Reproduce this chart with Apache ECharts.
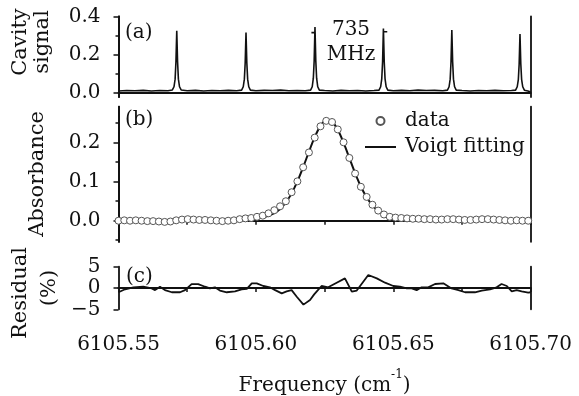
<!DOCTYPE html>
<html><head><meta charset="utf-8">
<script src="https://cdn.jsdelivr.net/npm/echarts@6/dist/echarts.min.js"></script>
<style>html,body{margin:0;padding:0;background:#fff}#c{width:579px;height:396px}</style>
</head><body><div id="c"></div>
<script>
// ---------- Panel (a): cavity transmission ----------
const cavityFreq = [
6105.5500,6105.5530,6105.5560,6105.5590,6105.5620,6105.5650,6105.5680,
6105.5696,6105.5702,6105.5706,6105.5709,6105.5712,6105.5715,6105.5718,6105.5722,6105.5728,
6105.5750,6105.5780,6105.5810,6105.5840,6105.5870,6105.5900,6105.5930,
6105.5948,6105.5954,6105.5958,6105.5961,6105.5964,6105.5967,6105.5970,6105.5974,6105.5980,
6105.6000,6105.6030,6105.6060,6105.6090,6105.6120,6105.6150,6105.6180,
6105.6199,6105.6205,6105.6209,6105.6212,6105.6215,6105.6218,6105.6221,6105.6225,6105.6231,
6105.6250,6105.6280,6105.6310,6105.6340,6105.6370,6105.6400,6105.6430,
6105.6448,6105.6454,6105.6458,6105.6461,6105.6464,6105.6467,6105.6470,6105.6474,6105.6480,
6105.6500,6105.6530,6105.6560,6105.6590,6105.6620,6105.6650,6105.6680,
6105.6697,6105.6703,6105.6707,6105.6710,6105.6713,6105.6716,6105.6719,6105.6723,6105.6729,
6105.6750,6105.6780,6105.6810,6105.6840,6105.6870,6105.6900,6105.6930,
6105.6945,6105.6951,6105.6955,6105.6958,6105.6961,6105.6964,6105.6967,6105.6971,6105.6977,
6105.6990,6105.7000];
const cavitySignal = [
0.008,0.010,0.009,0.011,0.008,0.010,0.009,
0.013,0.030,0.070,0.160,0.325,0.160,0.070,0.030,0.013,
0.009,0.011,0.008,0.010,0.009,0.011,0.009,
0.012,0.030,0.070,0.155,0.315,0.155,0.070,0.030,0.012,
0.009,0.011,0.010,0.012,0.009,0.010,0.009,
0.012,0.030,0.075,0.165,0.345,0.165,0.075,0.030,0.012,
0.010,0.008,0.011,0.009,0.010,0.008,0.010,
0.012,0.030,0.072,0.160,0.337,0.160,0.072,0.030,0.012,
0.009,0.011,0.009,0.012,0.010,0.011,0.009,
0.012,0.030,0.070,0.160,0.329,0.160,0.070,0.030,0.012,
0.010,0.008,0.010,0.009,0.011,0.009,0.010,
0.012,0.030,0.068,0.150,0.308,0.150,0.068,0.030,0.012,
0.008,0.002];
// free spectral range caliper marks (735 MHz)
const fsrLeftFreq  = [6105.6202, 6105.6215];
const fsrLeftValue = [0.315, 0.315];
const fsrRightFreq  = [6105.6464, 6105.6478];
const fsrRightValue = [0.320, 0.320];

// ---------- Panel (b): absorbance ----------
const absFreq = [
6105.5500,6105.5521,6105.5542,6105.5563,6105.5584,6105.5605,6105.5626,6105.5647,6105.5668,6105.5689,
6105.5710,6105.5731,6105.5752,6105.5773,6105.5794,6105.5815,6105.5836,6105.5857,6105.5878,6105.5899,
6105.5920,6105.5941,6105.5962,6105.5983,6105.6004,6105.6025,6105.6046,6105.6067,6105.6088,6105.6109,
6105.6130,6105.6151,6105.6172,6105.6193,6105.6214,6105.6235,6105.6256,6105.6277,6105.6298,6105.6319,
6105.6340,6105.6361,6105.6382,6105.6403,6105.6424,6105.6445,6105.6466,6105.6487,6105.6508,6105.6529,
6105.6550,6105.6571,6105.6592,6105.6613,6105.6634,6105.6655,6105.6676,6105.6697,6105.6718,6105.6739,
6105.6760,6105.6781,6105.6802,6105.6823,6105.6844,6105.6865,6105.6886,6105.6907,6105.6928,6105.6949,
6105.6970,6105.6991];
const absData = [
0.000,0.001,0.000,0.001,0.000,-0.001,-0.001,-0.002,-0.003,-0.002,
0.001,0.003,0.004,0.003,0.002,0.002,0.001,0.000,-0.001,0.000,
0.001,0.004,0.006,0.007,0.010,0.013,0.019,0.027,0.037,0.050,
0.073,0.101,0.137,0.175,0.213,0.242,0.256,0.253,0.234,0.201,
0.161,0.121,0.087,0.061,0.041,0.026,0.016,0.010,0.008,0.007,
0.006,0.005,0.005,0.004,0.004,0.003,0.003,0.004,0.004,0.003,
0.002,0.002,0.003,0.004,0.004,0.003,0.002,0.001,0.000,0.001,
0.000,0.000];
const absFit = [
0.0011,0.0011,0.0012,0.0012,0.0013,0.0013,0.0014,0.0014,0.0015,0.0016,
0.0016,0.0017,0.0018,0.0019,0.0021,0.0022,0.0024,0.0025,0.0027,0.0030,
0.0033,0.0037,0.0042,0.0050,0.0063,0.0086,0.0126,0.0193,0.0302,0.0467,
0.0701,0.1007,0.1373,0.1768,0.2142,0.2432,0.2576,0.2540,0.2332,0.2001,
0.1612,0.1223,0.0878,0.0600,0.0394,0.0253,0.0162,0.0107,0.0076,0.0057,
0.0046,0.0039,0.0035,0.0031,0.0028,0.0026,0.0024,0.0022,0.0021,0.0019,
0.0018,0.0017,0.0016,0.0015,0.0015,0.0014,0.0013,0.0013,0.0012,0.0012,
0.0011,0.0011];

// ---------- Panel (c): residual ----------
const resFreq = [
6105.5500,6105.5524,6105.5554,6105.5590,6105.5621,6105.5633,6105.5651,6105.5669,6105.5694,6105.5724,
6105.5742,6105.5766,6105.5790,6105.5815,6105.5833,6105.5851,6105.5869,6105.5894,6105.5924,6105.5948,
6105.5967,6105.5985,6105.6003,6105.6027,6105.6051,6105.6070,6105.6094,6105.6112,6105.6130,6105.6148,
6105.6173,6105.6197,6105.6212,6105.6224,6105.6239,6105.6263,6105.6294,6105.6324,6105.6349,6105.6367,
6105.6409,6105.6440,6105.6470,6105.6500,6105.6524,6105.6549,6105.6567,6105.6585,6105.6603,6105.6627,
6105.6652,6105.6682,6105.6712,6105.6737,6105.6761,6105.6797,6105.6822,6105.6852,6105.6876,6105.6894,
6105.6913,6105.6931,6105.6949,6105.6967,6105.6991,6105.7000];
const resValue = [
-1.0,-0.3,0.16,0.3,-0.1,-0.5,0.3,-0.5,-1.0,-1.0,
-0.5,0.9,0.9,0.3,-0.1,0.16,-0.6,-1.0,-0.8,-0.3,
-0.2,1.1,1.1,0.47,0.16,-0.5,-1.25,-0.8,-0.5,-2.0,
-3.9,-2.8,-1.5,-0.6,0.47,0.16,1.25,2.27,-0.86,-0.6,
3.05,2.27,1.25,0.47,0.3,-0.1,-0.1,-0.5,0.16,0.16,
0.94,1.1,-0.1,-0.5,-1.0,-1.0,-0.6,-0.3,0.16,0.94,
0.47,-0.8,-0.5,-0.8,-1.1,-1.0];

// ---------- ticks ----------
const xTickValues  = [6105.55,6105.575,6105.60,6105.625,6105.65,6105.675,6105.70];
const xLabelValues = [6105.55,6105.60,6105.65,6105.70];
const yMajorA = [0, 0.2, 0.4], yMinorA = [0.1, 0.3];
const yMajorB = [0, 0.1, 0.2], yMinorB = [-0.05, 0.05, 0.15, 0.25];
const yMajorC = [-5, 0, 5];

const FONT = 'DejaVu Serif';
const INK = '#111';
const AX = {lineStyle:{color:INK,width:1.8}};
const L = 118.5, W = 412.2;

function zip(xs, ys){ return xs.map((x,i)=> [x, ys[i]]); }

const xBase = (grid, extra) => Object.assign({
  type:'value', gridIndex:grid, min:6105.55, max:6105.70, position:'bottom',
  axisLine:Object.assign({show:true}, AX), splitLine:{show:false},
  axisTick:{show:false}, axisLabel:{show:false}
}, extra);
const xTickDef = {show:true, inside:false, length:4, lineStyle:{color:INK,width:1.5}, customValues:xTickValues};

const yBase = (grid, min, max, extra) => Object.assign({
  type:'value', gridIndex:grid, min:min, max:max, position:'left',
  axisLine:Object.assign({show:true}, AX), splitLine:{show:false},
  axisTick:{show:false}, axisLabel:{show:false}
}, extra);
const lbl = (vals, fmt) => ({show:true, customValues:vals, margin:18, color:INK,
  fontFamily:FONT, fontSize:20, formatter:fmt});
const tk = (vals, len) => ({show:true, inside:false, length:len, customValues:vals, lineStyle:{color:INK,width:1.5}});

const yA = [-0.024, 0.4], yB = [-0.054, 0.2925], yC = [-5, 5];

const option = {
  animation:false,
  backgroundColor:'#fff',
  textStyle:{fontFamily:FONT},
  grid:[
    {left:L, width:W, top:16.5, height:80.5, outerBoundsMode:'none'},
    {left:L, width:W, top:106.6, height:135.2, outerBoundsMode:'none'},
    {left:L, width:W, top:266.7, height:42.6, outerBoundsMode:'none'}
  ],
  xAxis:[
    xBase(0,{axisLine:{show:false}}),
    xBase(0,{position:'top'}),
    xBase(1,{axisTick:xTickDef}),
    xBase(2,{axisTick:xTickDef,
      axisLabel:{show:true, customValues:xLabelValues, margin:25, color:INK, fontFamily:FONT, fontSize:20,
        formatter:v=>Number(v).toFixed(2)},
      name:'{m|Frequency (cm}{s|-1}{m|)}', nameLocation:'middle', nameGap:60,
      nameTextStyle:{rich:{
        m:{fontFamily:FONT, fontSize:20, color:INK, lineHeight:26, verticalAlign:'bottom'},
        s:{fontFamily:FONT, fontSize:12, color:INK, lineHeight:26, verticalAlign:'top'}}}}),
    xBase(2,{position:'top'})
  ],
  yAxis:[
    yBase(0, yA[0], yA[1], {axisTick:tk(yMajorA,5), axisLabel:lbl(yMajorA, v=>Number(v).toFixed(1))}),
    yBase(0, yA[0], yA[1], {axisTick:tk(yMinorA,3)}),
    yBase(0, yA[0], yA[1], {position:'right'}),
    yBase(1, yB[0], yB[1], {axisTick:tk(yMajorB,5), axisLabel:lbl(yMajorB, v=>Number(v).toFixed(1))}),
    yBase(1, yB[0], yB[1], {axisTick:tk(yMinorB,3)}),
    yBase(1, yB[0], yB[1], {position:'right'}),
    yBase(2, yC[0], yC[1], {axisTick:tk(yMajorC,5), axisLabel:lbl(yMajorC, v=> v<0 ? '\u2212'+Math.abs(v) : String(v))}),
    yBase(2, yC[0], yC[1], {position:'right'})
  ],
  legend:{
    orient:'vertical', left:360, top:106, itemWidth:31, itemHeight:8, itemGap:6,
    textStyle:{fontFamily:FONT, fontSize:20, color:INK, lineHeight:20, padding:[0,0,0,4]},
    data:[{name:'data', icon:'circle'}, {name:'Voigt fitting', icon:'path://M0,0H31V2H0Z'}]
  },
  series:[
    {type:'line', name:'cavity', xAxisIndex:0, yAxisIndex:0, data:zip(cavityFreq,cavitySignal),
      showSymbol:false, symbol:'none', lineStyle:{color:INK,width:1.6}, silent:true},
    {type:'line', name:'fsrL', xAxisIndex:0, yAxisIndex:0, data:zip(fsrLeftFreq,fsrLeftValue),
      showSymbol:false, symbol:'none', lineStyle:{color:INK,width:1.6}, silent:true},
    {type:'line', name:'fsrR', xAxisIndex:0, yAxisIndex:0, data:zip(fsrRightFreq,fsrRightValue),
      showSymbol:false, symbol:'none', lineStyle:{color:INK,width:1.6}, silent:true},
    {type:'line', name:'Voigt fitting', xAxisIndex:2, yAxisIndex:3, data:zip(absFreq,absFit),
      smooth:0.3, showSymbol:false, symbol:'none', lineStyle:{color:INK,width:2}, itemStyle:{color:INK}, z:2},
    {type:'scatter', name:'data', xAxisIndex:2, yAxisIndex:3, data:zip(absFreq,absData),
      symbol:'circle', symbolSize:7, itemStyle:{color:'#fff', borderColor:'#555', borderWidth:1, opacity:1}, z:3},
    {type:'line', name:'residual', xAxisIndex:3, yAxisIndex:6, data:zip(resFreq,resValue),
      showSymbol:false, symbol:'none', lineStyle:{color:INK,width:1.8}, silent:true}
  ],
  graphic:[
    {type:'text', x:125, y:33, style:{text:'(a)', font:'20px "DejaVu Serif"', fill:INK, verticalAlign:'middle'}},
    {type:'text', x:125, y:120, style:{text:'(b)', font:'20px "DejaVu Serif"', fill:INK, verticalAlign:'middle'}},
    {type:'text', x:126, y:277, style:{text:'(c)', font:'20px "DejaVu Serif"', fill:INK, verticalAlign:'middle'}},
    {type:'text', x:351, y:29.5, style:{text:'735', font:'20px "DejaVu Serif"', fill:INK, align:'center', verticalAlign:'middle'}},
    {type:'text', x:351, y:55, style:{text:'MHz', font:'20px "DejaVu Serif"', fill:INK, align:'center', verticalAlign:'middle'}},
    {type:'text', x:21, y:42, rotation:Math.PI/2, style:{text:'Cavity', font:'21px "DejaVu Serif"', fill:INK, align:'center', verticalAlign:'middle'}},
    {type:'text', x:43, y:42, rotation:Math.PI/2, style:{text:'signal', font:'21px "DejaVu Serif"', fill:INK, align:'center', verticalAlign:'middle'}},
    {type:'text', x:38, y:174, rotation:Math.PI/2, style:{text:'Absorbance', font:'21px "DejaVu Serif"', fill:INK, align:'center', verticalAlign:'middle'}},
    {type:'text', x:21, y:293, rotation:Math.PI/2, style:{text:'Residual', font:'21px "DejaVu Serif"', fill:INK, align:'center', verticalAlign:'middle'}},
    {type:'text', x:50, y:288, rotation:Math.PI/2, style:{text:'(%)', font:'21px "DejaVu Serif"', fill:INK, align:'center', verticalAlign:'middle'}}
  ]
};
const chart = echarts.init(document.getElementById('c'), null, {renderer:'canvas'});
chart.setOption(option);
</script></body></html>
